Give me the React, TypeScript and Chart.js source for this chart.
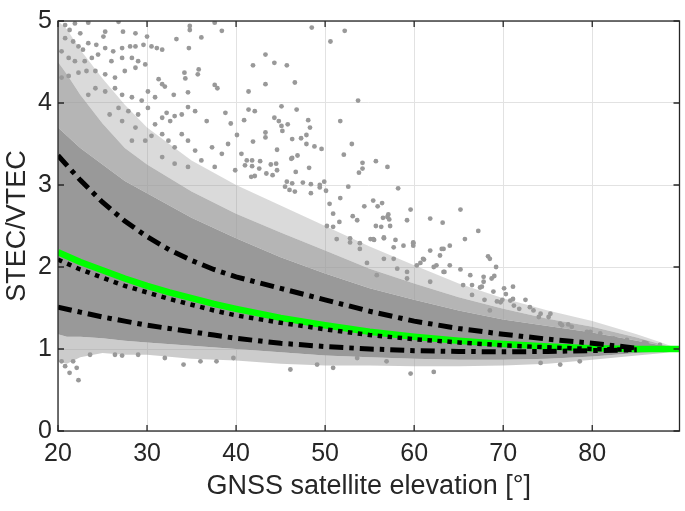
import React, { useEffect, useRef } from 'react';
import { Chart, registerables } from 'chart.js';

Chart.register(...registerables);

// Elevation grid for the dense point cloud envelopes
const envElev = [20, 21, 22.5, 25, 27.5, 30, 35, 40, 45, 50, 55, 60, 65, 70, 75, 80, 85, 88, 89.5];
const coreUpper = [3.7, 3.6, 3.45, 3.25, 3.05, 2.9, 2.6, 2.35, 2.12, 1.92, 1.74, 1.6, 1.47, 1.36, 1.28, 1.2, 1.1, 1.04, 1.0];
const coreLower = [1.18, 1.15, 1.15, 1.13, 1.1, 1.08, 1.04, 1.0, 0.96, 0.92, 0.9, 0.88, 0.87, 0.87, 0.88, 0.91, 0.95, 0.97, 0.99];
const haloMid = [4.5, 4.35, 4.1, 3.75, 3.45, 3.25, 2.92, 2.65, 2.42, 2.2, 1.98, 1.8, 1.63, 1.49, 1.37, 1.27, 1.14, 1.05, 1.0];
const haloUpper = [5.0, 4.9, 4.65, 4.3, 3.98, 3.7, 3.3, 3.0, 2.75, 2.5, 2.25, 2.02, 1.8, 1.62, 1.47, 1.34, 1.18, 1.07, 1.01];
const haloLower = [0.85, 0.82, 0.9, 0.95, 0.93, 0.93, 0.88, 0.86, 0.82, 0.8, 0.8, 0.79, 0.79, 0.8, 0.82, 0.87, 0.92, 0.95, 0.98];

// Curves
const lineElev = [20, 22.5, 25, 27.5, 30, 32.5, 35, 37.5, 40, 45, 50, 55, 60, 65, 70, 75, 80, 85];
const mapElev = [20, 22.5, 25, 27.5, 30, 32.5, 35, 37.5, 40, 45, 50, 55, 60, 65, 70, 75, 80, 85, 90];
const mappingFunction = [2.18, 2.06, 1.96, 1.86, 1.77, 1.69, 1.62, 1.55, 1.49, 1.38, 1.29, 1.21, 1.15, 1.1, 1.06, 1.03, 1.01, 1.0, 1.0];
const meanRatio = [2.09, 1.97, 1.87, 1.77, 1.69, 1.61, 1.54, 1.47, 1.41, 1.32, 1.24, 1.17, 1.12, 1.08, 1.045, 1.02, 1.0, 0.99];
const upperBound = [3.36, 3.06, 2.79, 2.56, 2.37, 2.21, 2.08, 1.97, 1.88, 1.74, 1.6, 1.46, 1.34, 1.25, 1.18, 1.12, 1.07, 1.01];
const lowerBound = [1.51, 1.45, 1.39, 1.34, 1.29, 1.25, 1.21, 1.17, 1.13, 1.07, 1.03, 1.0, 0.98, 0.97, 0.965, 0.97, 0.98, 0.99];

// Sparse scatter points outside the dense cloud [elevation, ratio]
const sparsePoints: number[][] = [
  [20.8, 4.95], [21.9, 4.97], [23.4, 4.98], [26.8, 4.99], [21.3, 4.89], [22.5, 4.85], [25.3, 4.87], [25.1, 4.81],
  [27.3, 4.87], [28.7, 4.85], [28.7, 4.69], [29.6, 4.71], [30.0, 4.81], [30.5, 4.69], [31.1, 4.67], [31.7, 4.65],
  [33.3, 4.78], [34.7, 4.67], [34.8, 4.94], [34.8, 4.89], [36.1, 4.80], [37.6, 4.98], [38.4, 4.88],
  [28.1, 4.69], [27.2, 4.67], [26.2, 4.63], [25.3, 4.67], [24.3, 4.71], [23.4, 4.73], [22.8, 4.65], [22.3, 4.69],
  [21.7, 4.75], [20.8, 4.79], [20.4, 4.63], [21.2, 4.55], [21.9, 4.51], [23.0, 4.51], [23.8, 4.55], [24.5, 4.59],
  [26.0, 4.51], [27.2, 4.55], [28.3, 4.55], [29.0, 4.51], [29.8, 4.47], [28.7, 4.43], [27.5, 4.39], [26.4, 4.31],
  [25.3, 4.35], [24.2, 4.39], [23.2, 4.39], [22.3, 4.37], [21.2, 4.33], [20.4, 4.31],
  [35.8, 4.41], [35.7, 4.35], [34.2, 4.37], [34.3, 4.30], [37.6, 4.22], [37.9, 4.18], [41.4, 4.14], [34.6, 4.13],
  [33.0, 4.10], [41.4, 3.92], [38.8, 3.88], [39.4, 3.75], [36.7, 3.78], [40.9, 3.79], [40.1, 3.61],
  [35.4, 3.90], [34.6, 3.95], [33.9, 3.86], [33.1, 3.84], [32.6, 3.78], [32.2, 3.88], [31.7, 3.82],
  [30.1, 4.14], [30.9, 4.07], [31.7, 4.23], [32.0, 4.20], [31.3, 4.29],
  [29.4, 4.03], [28.3, 4.07], [27.2, 4.10], [26.4, 4.18], [25.3, 4.14], [24.2, 4.18], [23.4, 4.10], [30.1, 3.94],
  [30.9, 3.74], [31.7, 3.62], [30.5, 3.60], [32.4, 3.54], [33.1, 3.46], [33.9, 3.62], [34.6, 3.54], [35.4, 3.42],
  [36.1, 3.30], [37.3, 3.46], [38.4, 3.38], [39.1, 3.50], [40.6, 3.38], [41.8, 3.30], [37.6, 3.22], [39.9, 3.18],
  [34.6, 3.22], [33.1, 3.26], [31.7, 3.34], [29.0, 3.86], [27.9, 3.90], [26.8, 3.94], [25.8, 3.86], [27.2, 3.78],
  [28.7, 3.70], [29.8, 3.54], [28.3, 3.54],
  [48.5, 4.92], [52.2, 4.88], [50.6, 4.75], [41.9, 4.46], [43.3, 4.59], [44.3, 4.49], [45.7, 4.46], [43.3, 4.23],
  [46.6, 4.25], [53.7, 4.03], [45.1, 3.96], [46.8, 3.92], [42.1, 3.90], [44.3, 3.82], [44.8, 3.78], [45.1, 3.72],
  [45.8, 3.74], [48.1, 3.79], [48.3, 3.70], [51.7, 3.78], [43.3, 3.64], [43.3, 3.58], [45.2, 3.66], [41.9, 3.53],
  [46.3, 3.56], [47.3, 3.57], [47.9, 3.61], [53.0, 3.50], [44.6, 3.43], [47.9, 3.50], [48.8, 3.47], [49.6, 3.44],
  [52.1, 3.37], [46.3, 3.33], [46.9, 3.36], [54.2, 3.27], [54.2, 3.20], [53.8, 3.15], [55.7, 3.29], [57.0, 3.22],
  [42.7, 3.29], [43.9, 3.25], [44.6, 3.18], [48.2, 3.21], [46.7, 3.16], [58.2, 2.96], [52.6, 2.98], [49.9, 3.04],
  [49.4, 3.00], [48.4, 3.01], [47.5, 3.03], [50.1, 2.93], [51.7, 2.84], [55.4, 2.81], [55.9, 2.74], [56.4, 2.78],
  [54.4, 2.74], [59.6, 2.70], [61.8, 2.59], [63.2, 2.54], [65.2, 2.70], [67.2, 2.44], [65.7, 2.34], [64.0, 2.26],
  [50.5, 2.77], [50.9, 2.65], [53.1, 2.62], [53.6, 2.57], [51.6, 2.55], [55.7, 2.50], [56.3, 2.49], [57.0, 2.61],
  [57.2, 2.58], [57.3, 2.50], [59.2, 2.57], [50.2, 2.50], [50.9, 2.49], [52.8, 2.35], [53.9, 2.29], [55.1, 2.34],
  [55.5, 2.33], [56.6, 2.35], [57.9, 2.33], [59.9, 2.29], [59.9, 2.26], [61.8, 2.20], [63.3, 2.22],
  [68.3, 2.13], [65.2, 1.97], [63.4, 1.94], [62.2, 2.0], [61.1, 2.09], [41.2, 3.30], [41.8, 3.23], [41.0, 3.24],
  [42.6, 3.20], [43.4, 3.14], [44.5, 3.26], [44.1, 3.12], [42.1, 3.11], [41.7, 3.10], [46.2, 3.32], [45.7, 3.04],
  [46.3, 3.02], [45.5, 2.98], [46.0, 2.94], [46.6, 2.92], [48.4, 2.90], [49.4, 2.97], [56.5, 2.60], [57.1, 2.64],
  [69.2, 2.0], [67.8, 1.88], [68.7, 1.86], [69.0, 1.89], [67.6, 1.76], [70.1, 1.74], [71.1, 1.76], [70.3, 1.67],
  [68.9, 1.70], [71.1, 1.61], [72.5, 1.60], [69.9, 1.60], [69.3, 1.58], [67.9, 1.60], [71.2, 1.53], [73.0, 1.51],
  [73.4, 1.47], [75.3, 1.43], [75.1, 1.39], [74.0, 1.39], [76.4, 1.31], [77.3, 1.30], [80.9, 1.19], [79.8, 1.21],
  [85.8, 1.08], [87.6, 1.05],
  [66.5, 1.78], [66.5, 1.66], [67.4, 1.75], [70.8, 1.59], [71.8, 1.49], [74.2, 1.43], [76.6, 1.29], [77.7, 1.27],
  [79.4, 1.21], [82.4, 1.13], [83.9, 1.11], [86.1, 1.07], [68.5, 1.47], [69.7, 1.57],
  [56.6, 2.10], [58.1, 1.98], [60.7, 2.05], [62.9, 2.14], [64.0, 2.02], [66.3, 1.90], [67.8, 1.82], [68.5, 2.10],
  [65.5, 1.78], [61.8, 1.82], [59.2, 1.86], [55.8, 1.90], [51.3, 2.34], [52.8, 2.30], [53.9, 2.22], [55.4, 2.34],
  [56.6, 2.36], [57.7, 2.24], [58.8, 2.26], [59.9, 2.30], [61.0, 2.10], [62.5, 2.02], [63.1, 2.22], [63.3, 1.94],
  [60.3, 2.02], [57.7, 2.10], [59.2, 1.94], [54.7, 2.05],
  [20.4, 0.85], [20.8, 0.79], [21.3, 0.71], [22.3, 0.62], [22.1, 0.77], [21.7, 0.85], [23.6, 0.93], [26.4, 0.93],
  [27.2, 0.92], [29.0, 0.93], [34.1, 0.81], [32.0, 0.89], [36.0, 0.85], [37.8, 0.85], [39.7, 0.89], [46.1, 0.75],
  [50.9, 0.77], [56.9, 0.85], [59.6, 0.70], [62.2, 0.72], [49.1, 0.81], [53.6, 0.89], [76.4, 0.81], [78.6, 0.85],
  [74.2, 0.83],
];

const xTicks = [20, 30, 40, 50, 60, 70, 80];
const yTicks = [0, 1, 2, 3, 4, 5];

const xTitle = 'GNSS satellite elevation [°]';
const yTitle = 'STEC/VTEC';

const GRAY = 'rgb(153,153,153)';
const HALO_IN = 'rgba(153,153,153,0.72)';
const HALO_OUT = 'rgba(153,153,153,0.36)';
const HALO_LOW = 'rgba(153,153,153,0.5)';
const FONT = '"Liberation Sans", Arial, Helvetica, sans-serif';
const AXIS = '#262626';

const toXY = (xs: number[], ys: number[]) => xs.map((x, i) => ({ x, y: ys[i] }));

const boxPlugin = {
  id: 'matlabBox',
  afterDraw(chart: any) {
    const { ctx, chartArea: a, scales } = chart;
    const xs = scales.x;
    const ys = scales.y;
    ctx.save();
    ctx.strokeStyle = AXIS;
    ctx.lineWidth = 1.3;
    ctx.beginPath();
    const tl = 6;
    xTicks.forEach((v) => {
      const px = xs.getPixelForValue(v);
      ctx.moveTo(px, a.bottom);
      ctx.lineTo(px, a.bottom - tl);
      ctx.moveTo(px, a.top);
      ctx.lineTo(px, a.top + tl);
    });
    yTicks.forEach((v) => {
      const py = ys.getPixelForValue(v);
      ctx.moveTo(a.left, py);
      ctx.lineTo(a.left + tl, py);
      ctx.moveTo(a.right, py);
      ctx.lineTo(a.right - tl, py);
    });
    ctx.stroke();
    ctx.strokeRect(a.left, a.top, a.right - a.left, a.bottom - a.top);
    ctx.restore();
  },
};

export default function App() {
  const ref = useRef<HTMLCanvasElement | null>(null);

  useEffect(() => {
    document.body.style.margin = '0';
    if (!ref.current) return;
    const hidden = { pointRadius: 0, borderWidth: 0, borderColor: 'transparent', showLine: true };
    const dashDot = {
      borderColor: '#000000',
      borderWidth: 5,
      borderDash: [14, 6, 4.5, 6],
      borderCapStyle: 'butt',
      pointRadius: 0,
      fill: false,
      order: 2,
    };
    const chart = new Chart(ref.current, {
      type: 'line',
      data: {
        datasets: [
          { ...hidden, data: toXY(envElev, coreLower), fill: false, order: 30 } as any,
          { ...hidden, data: toXY(envElev, coreUpper), fill: { target: 0 }, backgroundColor: GRAY, order: 30 } as any,
          { ...hidden, data: toXY(envElev, haloMid), fill: { target: 1 }, backgroundColor: HALO_IN, order: 31 } as any,
          { ...hidden, data: toXY(envElev, haloUpper), fill: { target: 2 }, backgroundColor: HALO_OUT, order: 32 } as any,
          { ...hidden, data: toXY(envElev, haloLower), fill: { target: 0 }, backgroundColor: HALO_LOW, order: 31 } as any,
          {
            data: sparsePoints.map(([x, y]) => ({ x, y })),
            showLine: false,
            pointRadius: 2.4,
            pointBorderWidth: 0,
            pointBackgroundColor: GRAY,
            backgroundColor: GRAY,
            borderColor: 'transparent',
            order: 20,
          } as any,
          {
            data: toXY(mapElev, mappingFunction),
            borderColor: 'rgb(0,255,0)',
            borderWidth: 6.5,
            pointRadius: 0,
            fill: false,
            order: 5,
          } as any,
          {
            data: toXY(lineElev, meanRatio),
            borderColor: '#000000',
            borderWidth: 4.5,
            borderDash: [4.5, 5.5],
            borderCapStyle: 'butt',
            pointRadius: 0,
            fill: false,
            order: 3,
          } as any,
          { ...dashDot, data: toXY(lineElev, upperBound) } as any,
          { ...dashDot, data: toXY(lineElev, lowerBound) } as any,
        ],
      },
      options: {
        animation: false,
        responsive: true,
        maintainAspectRatio: false,
        events: [],
        layout: { padding: { top: 16, right: 5.5, left: 0, bottom: 0 } },
        plugins: { legend: { display: false }, tooltip: { enabled: false } },
        scales: {
          x: {
            type: 'linear',
            min: 20,
            max: 89.8,
            afterFit: (s: any) => { s.height = 80; },
            afterBuildTicks: (s: any) => { s.ticks = xTicks.map((v) => ({ value: v })); },
            ticks: { font: { family: FONT, size: 25 }, color: AXIS, padding: 8, includeBounds: false, stepSize: 10 },
            grid: { color: '#e2e2e2', lineWidth: 1, drawTicks: false },
            border: { display: false },
            title: { display: true, text: xTitle, font: { family: FONT, size: 27 }, color: AXIS, padding: { top: 0, bottom: 8 } },
          },
          y: {
            type: 'linear',
            min: 0,
            max: 5,
            afterFit: (s: any) => { s.width = 58; },
            afterBuildTicks: (s: any) => { s.ticks = yTicks.map((v) => ({ value: v })); },
            ticks: { font: { family: FONT, size: 25 }, color: AXIS, padding: 6, stepSize: 1 },
            grid: { color: '#e2e2e2', lineWidth: 1, drawTicks: false },
            border: { display: false },
            title: { display: true, text: yTitle, font: { family: FONT, size: 27 }, color: AXIS, padding: { top: 1, bottom: 0 } },
          },
        },
      } as any,
      plugins: [boxPlugin],
    });
    return () => chart.destroy();
  }, []);

  return (
    <div style={{ position: 'absolute', left: 0, top: 0, width: 685, height: 511, background: '#fff' }}>
      <canvas ref={ref} />
    </div>
  );
}
